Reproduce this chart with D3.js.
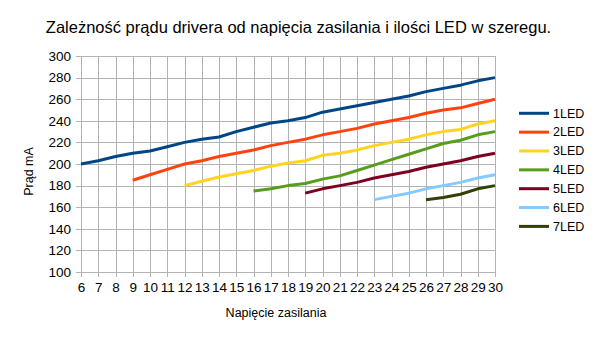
<!DOCTYPE html>
<html>
<head>
<meta charset="utf-8">
<script src="https://cdn.jsdelivr.net/npm/d3@7"></script>
<style>
html,body{margin:0;padding:0;background:#fff;}
svg{display:block;font-family:"Liberation Sans",Arial,sans-serif;}
</style>
</head>
<body>
<svg id="chart" width="605" height="340"></svg>
<script>
const titleText = "Zależność prądu drivera od napięcia zasilania i ilości LED w szeregu.";
const xTitle = "Napięcie zasilania";
const yTitle = "Prąd mA";
const seriesNames = ["1LED","2LED","3LED","4LED","5LED","6LED","7LED"];
const seriesColors = ["#004586","#ff420e","#ffd320","#579d1c","#7e0021","#83caff","#314004"];
const seriesStart = [6, 9, 12, 16, 19, 23, 26];
const led1 = [200,203,207,210,212,216,220,223,225,230,234,238,240,243,248,251,254,257,260,263,267,270,273,277,280];
const led2 = [185,190,195,200,203,207,210,213,217,220,223,227,230,233,237,240,243,247,250,252,256,260];
const led3 = [180,184,188,191,194,198,201,203,208,210,213,217,220,223,227,230,232,237,240];
const led4 = [175,177,180,182,186,189,194,199,204,209,214,219,222,227,230];
const led5 = [173,177,180,183,187,190,193,197,200,203,207,210];
const led6 = [167,170,173,177,180,183,187,190];
const led7 = [167,169,172,177,180];
const xTicks = d3.range(6, 31, 1);
const yTicks = [100,120,140,160,180,200,220,240,260,280,300];

const seriesValues = [led1, led2, led3, led4, led5, led6, led7];

const svg = d3.select("#chart");
const m = {left: 81, right: 495, top: 56, bottom: 272};
const x = d3.scaleLinear().domain([6, 30]).range([m.left, m.right]);
const y = d3.scaleLinear().domain([100, 300]).range([m.bottom, m.top]);

// title
svg.append("text").attr("x", 298.5).attr("y", 33).attr("text-anchor", "middle")
  .attr("font-size", "16.5px").attr("fill", "#000").text(titleText);

// grid
const grid = svg.append("g").attr("stroke", "#b3b3b3").attr("stroke-width", 1).attr("shape-rendering", "crispEdges");
grid.selectAll("line.h").data(yTicks).join("line")
  .attr("x1", m.left).attr("x2", m.right)
  .attr("y1", d => Math.round(y(d)) + 0.5).attr("y2", d => Math.round(y(d)) + 0.5);
grid.selectAll("line.v").data(xTicks).join("line")
  .attr("y1", m.top).attr("y2", m.bottom)
  .attr("x1", d => Math.round(x(d)) + 0.5).attr("x2", d => Math.round(x(d)) + 0.5);

// axes
const yAxis = d3.axisLeft(y).tickValues(yTicks).tickSize(5).tickPadding(5).tickSizeOuter(0);
const gy = svg.append("g").attr("transform", `translate(${m.left},0)`).call(yAxis);
const xAxis = d3.axisBottom(x).tickValues(xTicks).tickSize(5).tickPadding(5).tickSizeOuter(0);
const gx = svg.append("g").attr("transform", `translate(0,${m.bottom})`).call(xAxis);
[gx, gy].forEach(g => {
  g.select(".domain").remove();
  g.selectAll(".tick line").attr("stroke", "#b3b3b3").attr("shape-rendering", "crispEdges");
  g.selectAll(".tick text").attr("font-size", "13.5px").attr("fill", "#000")
    .attr("font-family", "Liberation Sans, Arial, sans-serif");
});

// axis titles
svg.append("text").attr("x", 276).attr("y", 316.5).attr("text-anchor", "middle")
  .attr("font-size", "12.5px").attr("fill", "#000").text(xTitle);
svg.append("text").attr("transform", "translate(33,171.5) rotate(-90)").attr("text-anchor", "middle")
  .attr("font-size", "12.5px").attr("fill", "#000").text(yTitle);

// lines
const line = d3.line().x(d => x(d[0])).y(d => y(d[1]));
seriesValues.forEach((vals, i) => {
  const pts = vals.map((v, k) => [seriesStart[i] + k, v]);
  svg.append("path").datum(pts).attr("d", line)
    .attr("fill", "none").attr("stroke", seriesColors[i]).attr("stroke-width", 3)
    .attr("stroke-linejoin", "round");
});

// legend
const lg = svg.append("g");
seriesNames.forEach((name, i) => {
  const ly = 113.3 + i * 18.85;
  lg.append("line").attr("x1", 519).attr("x2", 549).attr("y1", ly).attr("y2", ly)
    .attr("stroke", seriesColors[i]).attr("stroke-width", 3);
  lg.append("text").attr("x", 553).attr("y", ly + 4.3).attr("font-size", "12.5px")
    .attr("fill", "#000").text(name);
});
</script>
</body>
</html>
